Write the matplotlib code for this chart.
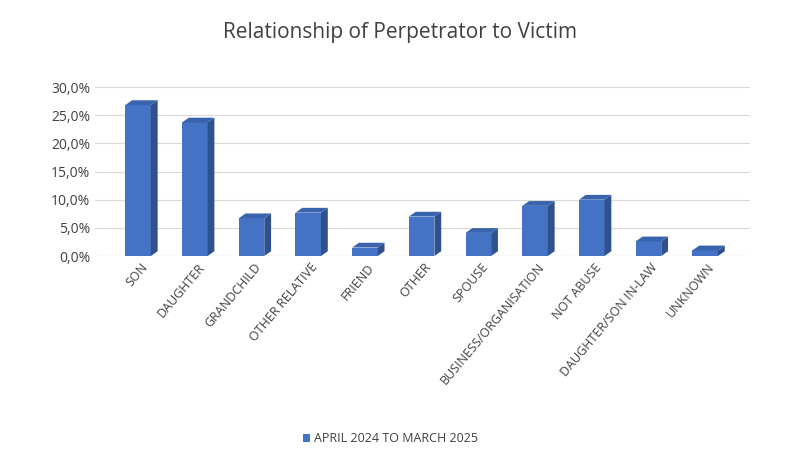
import matplotlib
matplotlib.use("Agg")
import matplotlib.pyplot as plt
from matplotlib.patches import Polygon, Rectangle

categories = ["SON", "DAUGHTER", "GRANDCHILD", "OTHER RELATIVE", "FRIEND", "OTHER",
              "SPOUSE", "BUSINESS/ORGANISATION", "NOT ABUSE", "DAUGHTER/SON IN-LAW", "UNKNOWN"]
values = [26.8, 23.7, 6.7, 7.7, 1.5, 7.0, 4.1, 8.9, 10.0, 2.6, 1.0]
series_name = "APRIL 2024 TO MARCH 2025"

FRONT = "#4472c4"
SIDE = "#2f528f"
TOP = "#3a63ad"

plt.rcParams["font.family"] = ["Open Sans", "DejaVu Sans"]
fig = plt.figure(figsize=(8, 4.67), dpi=100)
ax = fig.add_axes([95 / 800, 1 - 256 / 467, 655 / 800, (256 - 87) / 467])

w = 0.45
dx, dy = 0.12, 0.85
for i, v in enumerate(values):
    x0 = i - w / 2 + 0.26
    ax.add_patch(Rectangle((x0, 0), w, v, facecolor=FRONT, edgecolor="none", zorder=3))
    ax.add_patch(Polygon([(x0 + w, 0), (x0 + w + dx, dy), (x0 + w + dx, v + dy), (x0 + w, v)],
                         facecolor=SIDE, edgecolor="none", zorder=3))
    ax.add_patch(Polygon([(x0, v), (x0 + dx, v + dy), (x0 + w + dx, v + dy), (x0 + w, v)],
                         facecolor=TOP, edgecolor="none", zorder=3))

ax.set_xlim(-0.5, 11.05)
ax.set_ylim(0, 30)
ax.set_yticks(range(0, 31, 5))
ax.set_yticklabels([f"{t},0%" for t in range(0, 31, 5)], fontsize=10, color="#404040")
ax.set_xticks([i + 0.3 for i in range(len(categories))])
ax.set_xticklabels(categories, rotation=50, ha="right", rotation_mode="anchor",
                   fontsize=9, color="#404040")
ax.tick_params(length=0)
ax.grid(axis="y", color="#d9d9d9", linewidth=0.8, zorder=0)
for s in ax.spines.values():
    s.set_visible(False)
ax.axhline(0, color="#d9d9d9", linewidth=0.8, zorder=1)

fig.text(0.5, 0.93, "Relationship of Perpetrator to Victim", ha="center", va="center",
         fontsize=15, color="#404040")
fig.patches.append(Rectangle((0.379, 0.054), 0.008, 0.016, transform=fig.transFigure,
                             facecolor=FRONT, edgecolor="none"))
fig.text(0.392, 0.062, series_name, ha="left", va="center", fontsize=9, color="#404040")

fig.savefig("out.png", dpi=100)
